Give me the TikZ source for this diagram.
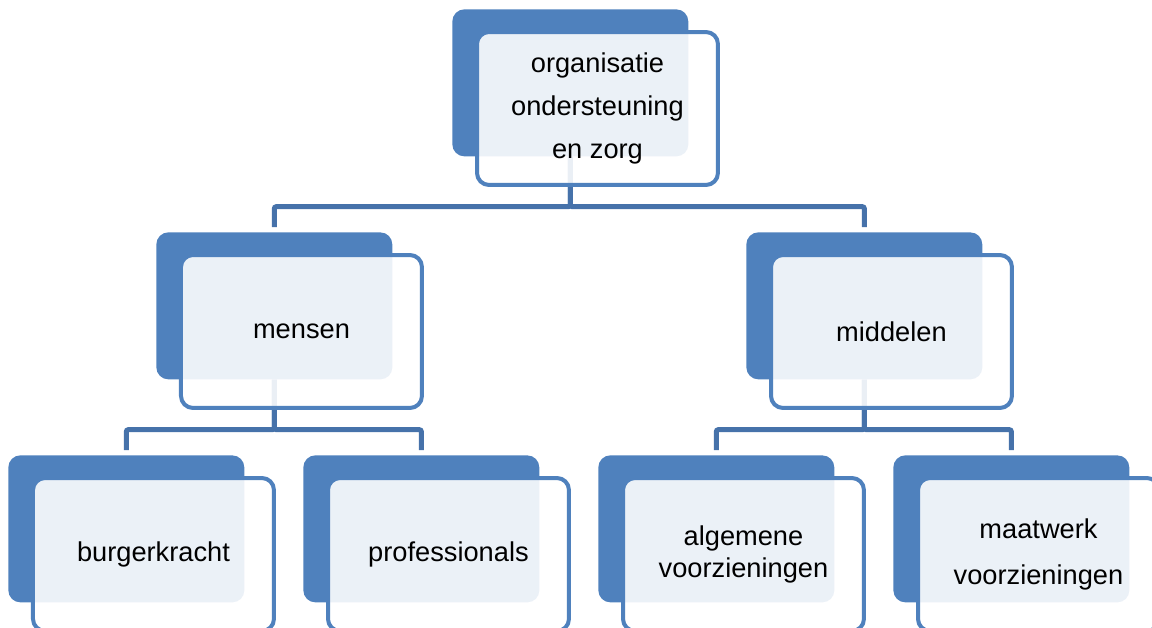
\documentclass[tikz,border=0pt]{standalone}
\usepackage{fontspec}
\setmainfont{Liberation Sans}
\usetikzlibrary{positioning}
\definecolor{boxblue}{HTML}{4F81BD}
\definecolor{linkblue}{HTML}{4672AA}
\tikzset{
  backbox/.style={anchor=north west, fill=boxblue, rounded corners=0.24cm,
    minimum width=4.72cm, minimum height=2.94cm, inner sep=0pt},
  frontbox/.style={draw=boxblue, line width=0.08cm, fill=white, fill opacity=0.89,
    text opacity=1, rounded corners=0.24cm, minimum width=4.82cm, minimum height=3.06cm,
    inner sep=0pt, align=center, font=\fontsize{15.5}{24.4}\selectfont},
  link/.style={draw=linkblue, line width=0.1cm, rounded corners=0.04cm, shorten >=0.1cm}
}

\begin{document}
\begin{tikzpicture}[x=0.02cm, y=-0.02cm]
\useasboundingbox (0,0) rectangle (1152,627);
\clip (0,0) rectangle (1152,627);

\foreach \n/\x/\y in {org/452/9, mensen/156/232, middelen/746/232,
  burger/8/455, prof/303/455, algemeen/598/455, maatwerk/893/455}
{
  \node[backbox] (\n) at (\x,\y) {};
}

\foreach \p/\c in {org/mensen, org/middelen, mensen/burger, mensen/prof,
  middelen/algemeen, middelen/maatwerk}
{
  \draw[link] (\p.south) -- ++(0,50) -| (\c.north);
}

\node[frontbox, below right=0.42cm and 0.46cm of org.north west] (org-f)
  {organisatie\\ondersteuning\\en zorg};
\node[frontbox, below right=0.42cm and 0.46cm of mensen.north west] (mensen-f) {mensen};
\node[frontbox, below right=0.42cm and 0.46cm of middelen.north west] (middelen-f) {middelen};
\node[frontbox, below right=0.42cm and 0.46cm of burger.north west] (burger-f) {burgerkracht};
\node[frontbox, below right=0.42cm and 0.46cm of prof.north west] (prof-f) {professionals};
\node[frontbox, below right=0.42cm and 0.46cm of algemeen.north west,
  font=\fontsize{15.5}{18.1}\selectfont] (algemeen-f) {algemene\\voorzieningen};
\node[frontbox, below right=0.42cm and 0.46cm of maatwerk.north west,
  font=\fontsize{15.5}{26}\selectfont] (maatwerk-f) {maatwerk\\voorzieningen};
\end{tikzpicture}
\end{document}
